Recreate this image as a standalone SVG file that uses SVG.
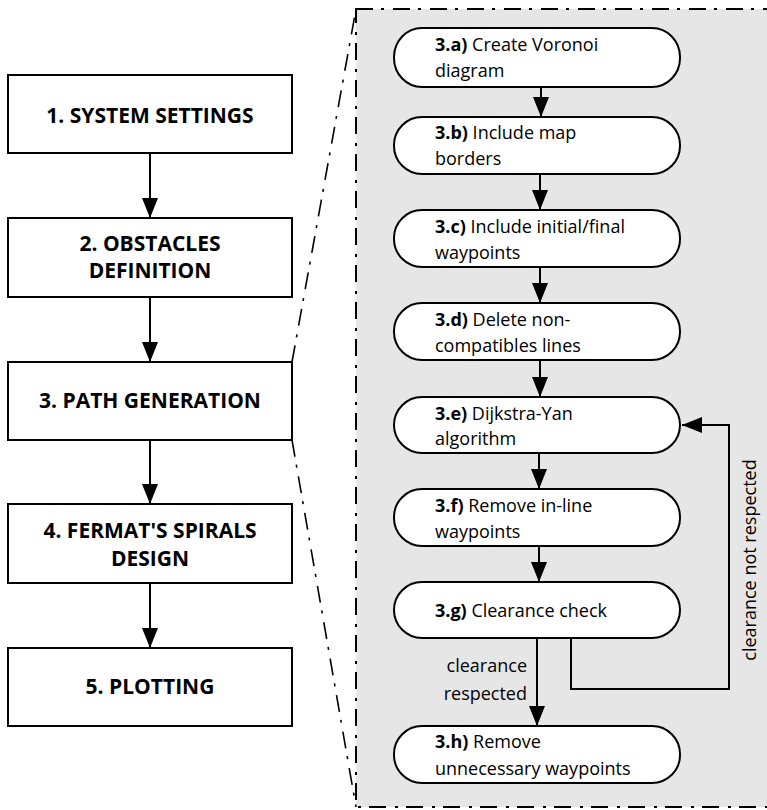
<svg xmlns="http://www.w3.org/2000/svg" width="767" height="810" viewBox="0 0 767 810">
<style>
.box{fill:#fff;stroke:#000;stroke-width:2}
.pill{fill:#fff;stroke:#000;stroke-width:2}
.t{font-family:"Open Sans","Liberation Sans",sans-serif;font-size:18px;fill:#000}
.tb{font-family:"Open Sans","Liberation Sans",sans-serif;font-size:21px;font-weight:bold;fill:#000;text-anchor:middle}
.b{font-weight:bold}
.ln{fill:none;stroke:#000;stroke-width:2}
.dd{fill:none;stroke:#000;stroke-width:1.6;stroke-dasharray:17 8 3 9}
</style>
<defs>
<marker id="ah" markerUnits="userSpaceOnUse" markerWidth="20" markerHeight="16" refX="20" refY="8" orient="auto">
<path d="M0,0 L20,8 L0,16 z" fill="#000"/>
</marker>
</defs>
<g id="panel">
<rect x="356" y="9" width="430" height="798" fill="#e6e6e6" stroke="#000" stroke-width="2" stroke-dasharray="17 8 3 9"/>
<path class="dd" d="M292,362 L356,9"/>
<path class="dd" d="M292,440 L356,807"/>
</g>
<g id="n1"><rect class="box" x="8" y="75" width="284" height="78"/><text class="tb" x="150" y="123">1. SYSTEM SETTINGS</text></g>
<g id="n2"><rect class="box" x="8" y="218" width="284" height="79"/><text class="tb" x="150" y="251">2. OBSTACLES</text><text class="tb" x="150" y="278">DEFINITION</text></g>
<g id="n3"><rect class="box" x="8" y="362" width="284" height="78"/><text class="tb" x="150" y="408">3. PATH GENERATION</text></g>
<g id="n4"><rect class="box" x="8" y="504" width="284" height="79"/><text class="tb" x="150" y="538">4. FERMAT'S SPIRALS</text><text class="tb" x="150" y="566">DESIGN</text></g>
<g id="n5"><rect class="box" x="8" y="648" width="284" height="78"/><text class="tb" x="150" y="694">5. PLOTTING</text></g>
<g id="s3a"><rect class="pill" x="394" y="28" width="286" height="59" rx="28" ry="29"/><text class="t" x="435" y="51"><tspan class="b">3.a)</tspan> Create Voronoi</text><text class="t" x="435" y="77">diagram</text></g>
<g id="s3b"><rect class="pill" x="394" y="117" width="286" height="57" rx="28" ry="28"/><text class="t" x="435" y="139"><tspan class="b">3.b)</tspan> Include map</text><text class="t" x="435" y="165">borders</text></g>
<g id="s3c"><rect class="pill" x="394" y="210" width="286" height="57" rx="28" ry="28"/><text class="t" x="435" y="233"><tspan class="b">3.c)</tspan> Include initial/final</text><text class="t" x="435" y="259">waypoints</text></g>
<g id="s3d"><rect class="pill" x="394" y="303" width="286" height="57" rx="28" ry="28"/><text class="t" x="435" y="326"><tspan class="b">3.d)</tspan> Delete non-</text><text class="t" x="435" y="352">compatibles lines</text></g>
<g id="s3e"><rect class="pill" x="394" y="397" width="286" height="56" rx="28" ry="28"/><text class="t" x="435" y="420"><tspan class="b">3.e)</tspan> Dijkstra-Yan</text><text class="t" x="435" y="445">algorithm</text></g>
<g id="s3f"><rect class="pill" x="394" y="489" width="286" height="57" rx="28" ry="28"/><text class="t" x="435" y="512"><tspan class="b">3.f)</tspan> Remove in-line</text><text class="t" x="435" y="538">waypoints</text></g>
<g id="s3g"><rect class="pill" x="394" y="582" width="286" height="56" rx="28" ry="28"/><text class="t" x="435" y="617"><tspan class="b">3.g)</tspan> Clearance check</text></g>
<g id="s3h"><rect class="pill" x="394" y="726" width="286" height="57" rx="28" ry="28"/><text class="t" x="435" y="748"><tspan class="b">3.h)</tspan> Remove</text><text class="t" x="435" y="775">unnecessary waypoints</text></g>
<g id="connectors">
<path class="ln" marker-end="url(#ah)" d="M150,153 V218"/>
<path class="ln" marker-end="url(#ah)" d="M150,297 V362"/>
<path class="ln" marker-end="url(#ah)" d="M150,440 V504"/>
<path class="ln" marker-end="url(#ah)" d="M150,583 V648"/>
<path class="ln" marker-end="url(#ah)" d="M541,87 V117"/>
<path class="ln" marker-end="url(#ah)" d="M540,174 V210"/>
<path class="ln" marker-end="url(#ah)" d="M540,267 V303"/>
<path class="ln" marker-end="url(#ah)" d="M540,360 V397"/>
<path class="ln" marker-end="url(#ah)" d="M539,453 V489"/>
<path class="ln" marker-end="url(#ah)" d="M539,546 V582"/>
<path class="ln" marker-end="url(#ah)" d="M537,638 V726"/>
<path class="ln" marker-end="url(#ah)" d="M571,638 V689 H729 V425 H682"/>
<text class="t" x="527" y="672" text-anchor="end">clearance</text>
<text class="t" x="527" y="700" text-anchor="end">respected</text>
<text class="t" transform="translate(756,560) rotate(-90)" text-anchor="middle">clearance not respected</text>
</g>
</svg>
